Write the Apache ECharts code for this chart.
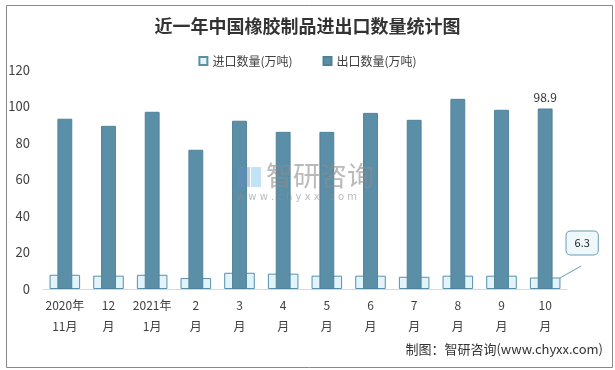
<!DOCTYPE html>
<html><head><meta charset="utf-8">
<script src="https://cdn.jsdelivr.net/npm/echarts@6/dist/echarts.min.js"></script>
<style>html,body{margin:0;padding:0;background:#fff}#c{width:615px;height:370px}</style>
</head><body><div id="c"></div>
<script>
const categories = ['2020年\n11月','12\n月','2021年\n1月','2\n月','3\n月','4\n月','5\n月','6\n月','7\n月','8\n月','9\n月','10\n月'];
const importValues = [7.8, 7.3, 7.8, 6.0, 8.9, 8.4, 7.3, 7.3, 6.7, 7.3, 7.3, 6.3];
const exportValues = [93.3, 89.4, 97.1, 76.3, 92.2, 86.1, 86.1, 96.5, 92.7, 104.2, 98.2, 98.9];
const yTicks = [0, 20, 40, 60, 80, 100, 120];
const seriesNames = ['进口数量(万吨)', '出口数量(万吨)'];

const font = '"Noto Sans CJK SC", "Microsoft YaHei", sans-serif';
const chart = echarts.init(document.getElementById('c'));
const last = importValues.length - 1;

chart.setOption({
  animation: false,
  textStyle: { fontFamily: font },
  title: {
    text: '近一年中国橡胶制品进出口数量统计图',
    left: 'center', top: 12,
    textStyle: { fontSize: 18, fontWeight: 'bold', color: '#333', fontFamily: font }
  },
  legend: {
    top: 50, left: 'center', itemWidth: 8, itemHeight: 8, itemGap: 30, icon: 'rect',
    textStyle: { fontSize: 12, color: '#404040' },
    data: seriesNames
  },
  grid: { left: 43, right: 48, top: 70, bottom: 81 },
  xAxis: [
    { type: 'category', data: categories,
      axisLine: { lineStyle: { color: '#d9d9d9' } }, axisTick: { show: false },
      axisLabel: { color: '#404040', fontSize: 12, lineHeight: 21, margin: 6, interval: 0 } },
    { type: 'category', data: categories, show: false }
  ],
  yAxis: {
    type: 'value', min: yTicks[0], max: yTicks[yTicks.length - 1], interval: 20,
    axisLine: { show: false }, axisTick: { show: false }, splitLine: { show: false },
    axisLabel: { color: '#404040', fontSize: 13, margin: 13 }
  },
  series: [
    { name: seriesNames[0], type: 'bar', xAxisIndex: 0, barWidth: '70%',
      data: importValues.map((v, i) => i === last ? {
        value: v,
        label: { show: true, position: 'top', offset: [37, -18], formatter: '{c}',
          color: '#222', fontSize: 11, backgroundColor: '#eef8fa', borderColor: '#6a9db3', borderWidth: 1,
          borderRadius: 4, padding: [6, 8] },
        labelLine: { show: true, lineStyle: { color: '#6a9db3', width: 1 } }
      } : v),
      itemStyle: { color: '#e1f4fa', borderColor: '#5a8fa8', borderWidth: 1 } },
    { name: seriesNames[1], type: 'bar', xAxisIndex: 1, barWidth: '34%',
      data: exportValues.map((v, i) => i === last ? { value: v, label: { show: true, position: 'top', color: '#333', fontSize: 12, formatter: '{c}' } } : v),
      itemStyle: { color: '#5b8fa8', borderColor: '#4f8299', borderWidth: 1 } }
  ],
  graphic: [
    { type: 'rect', left: 4, top: 3, shape: { width: 606, height: 362 }, style: { fill: 'none', stroke: '#888', lineWidth: 1 }, silent: true, z: 100 },
    { type: 'rect', left: 238, top: 167, shape: { width: 12, height: 20 }, style: { fill: 'rgba(100,140,190,0.4)' }, silent: true, z: 100 },
    { type: 'rect', left: 251, top: 167, shape: { width: 10, height: 20 }, style: { fill: 'rgba(120,190,235,0.45)' }, silent: true, z: 100 },
    { type: 'text', left: 266, top: 162, style: { text: '智研咨询', font: '27px "Noto Sans CJK SC"', fill: 'rgba(140,140,140,0.6)' }, silent: true, z: 100 },
    { type: 'text', left: 237, top: 192, style: { text: 'w w w . c h y x x . c o m', font: '10px "DejaVu Sans"', fill: 'rgba(140,140,140,0.6)' }, silent: true, z: 100 },
    { type: 'text', right: 12, top: 343, style: { text: '制图：智研咨询(www.chyxx.com)', font: '13px "Noto Sans CJK SC"', fill: '#333' }, silent: true }
  ]
});
</script></body></html>
